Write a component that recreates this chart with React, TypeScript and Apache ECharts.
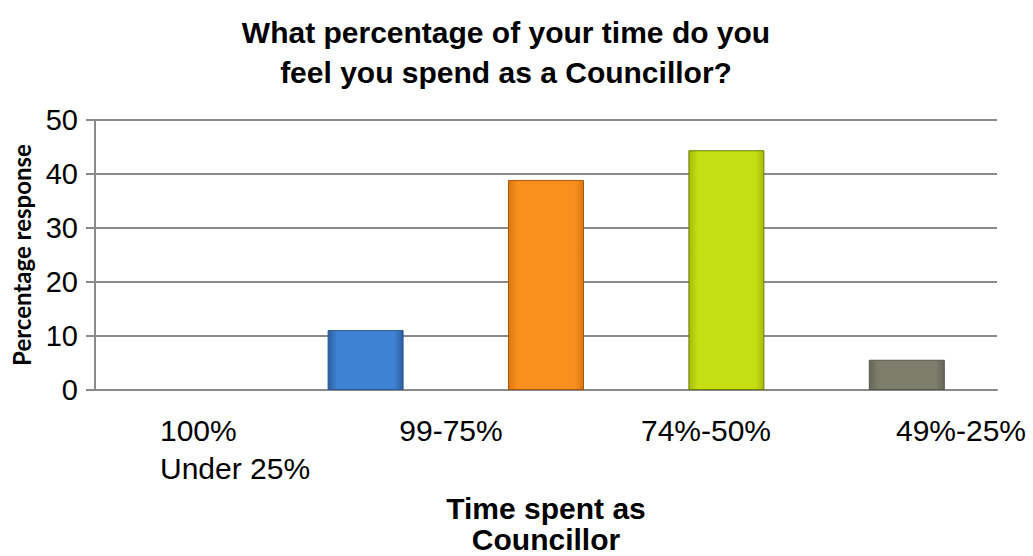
import React, { useEffect, useRef } from "react";
import * as echarts from "echarts";

const categories = ["100%", "99-75%", "74%-50%", "49%-25%", "Under 25%"];
const values = [0, 11.1, 38.9, 44.4, 5.6];
const baseColors = ["#4a7ebb", "#3f82d4", "#f8901f", "#c5df13", "#7d7d6c"];
const edgeColors = ["#3a65a0", "#2c5f9f", "#dc760f", "#a6bc0c", "#66665a"];
const borderColors = ["#8c8c8c", "#2a5a94", "#a3580f", "#6d7d05", "#55554a"];
const yMin = 0;
const yMax = 50;
const yInterval = 10;
const titleText = "What percentage of your time do you\nfeel you spend as a Councillor?";
const xName = "Time spent as\nCouncillor";
const yName = "Percentage response";
// the reference prints the first four labels in one row and wraps the last one under the first
const labelRow = [categories[0], categories[1], categories[2], categories[3]];
const wrappedLabel = categories[4];

const FONT = "'Liberation Sans', Arial, sans-serif";

export default function App() {
  const ref = useRef<HTMLDivElement>(null);
  useEffect(() => {
    document.body.style.margin = "0";
    if (!ref.current) return;
    const chart = echarts.init(ref.current, undefined, { renderer: "svg" });
    const grey = "#8a8a8a";
    chart.setOption({
      animation: false,
      backgroundColor: "#ffffff",
      title: {
        text: titleText,
        left: 506,
        top: 12,
        padding: 0,
        textAlign: "center",
        textStyle: {
          fontFamily: FONT,
          fontSize: 30,
          fontWeight: "bold",
          color: "#000",
          lineHeight: 40,
        },
      },
      grid: [
        { left: 95, right: 36, top: 120, bottom: 163 },
        { left: 196, right: 72, top: 120, bottom: 163 },
      ],
      xAxis: [
        {
          type: "category",
          gridIndex: 0,
          data: categories,
          axisLine: { show: true, lineStyle: { color: grey, width: 2 } },
          axisTick: { show: false },
          axisLabel: { show: false },
          name: xName,
          nameLocation: "middle",
          nameGap: 103,
          nameTextStyle: {
            fontFamily: FONT,
            fontSize: 30,
            fontWeight: "bold",
            color: "#000",
            lineHeight: 31,
          },
        },
        {
          type: "category",
          gridIndex: 1,
          data: labelRow,
          boundaryGap: false,
          axisLine: { show: false },
          axisTick: { show: false },
          splitLine: { show: false },
          axisLabel: {
            interval: 0,
            margin: 18,
            formatter: (v: string, i: number) =>
              i === 0 ? `{f|${v}}\n{f|${wrappedLabel}}` : `{n|${v}}`,
            rich: {
              f: {
                fontFamily: FONT,
                fontSize: 30,
                color: "#000",
                lineHeight: 38,
                align: "left",
                padding: [0, 0, 0, 78],
              },
              n: {
                fontFamily: FONT,
                fontSize: 30,
                color: "#000",
                lineHeight: 38,
              },
            },
          },
        },
      ],
      yAxis: [
        {
          type: "value",
          gridIndex: 0,
          min: yMin,
          max: yMax,
          interval: yInterval,
          axisLine: { show: true, lineStyle: { color: grey, width: 2 } },
          axisTick: { show: true, length: 9, lineStyle: { color: grey, width: 2 } },
          axisLabel: {
            fontFamily: FONT,
            fontSize: 29,
            color: "#000",
            margin: 17,
          },
          splitLine: { show: true, lineStyle: { color: grey, width: 2 } },
          name: yName,
          nameLocation: "middle",
          nameGap: 62,
          nameTextStyle: {
            fontFamily: "Lato, 'Open Sans', sans-serif",
            fontSize: 24,
            fontWeight: "bold",
            color: "#000",
          },
        },
        { type: "value", gridIndex: 1, show: false, min: yMin, max: yMax },
      ],
      series: [
        {
          type: "bar",
          xAxisIndex: 0,
          yAxisIndex: 0,
          barWidth: 76,
          data: values.map((v, i) => ({
            value: v,
            itemStyle: {
              color: new echarts.graphic.LinearGradient(0, 0, 1, 0, [
                { offset: 0, color: edgeColors[i] },
                { offset: 0.12, color: baseColors[i] },
                { offset: 0.88, color: baseColors[i] },
                { offset: 1, color: edgeColors[i] },
              ]),
              borderColor: borderColors[i],
              borderWidth: v === 0 ? 0 : 1,
            },
          })),
        },
      ],
    });
    return () => chart.dispose();
  }, []);
  return <div ref={ref} style={{ width: 1033, height: 556 }} />;
}
